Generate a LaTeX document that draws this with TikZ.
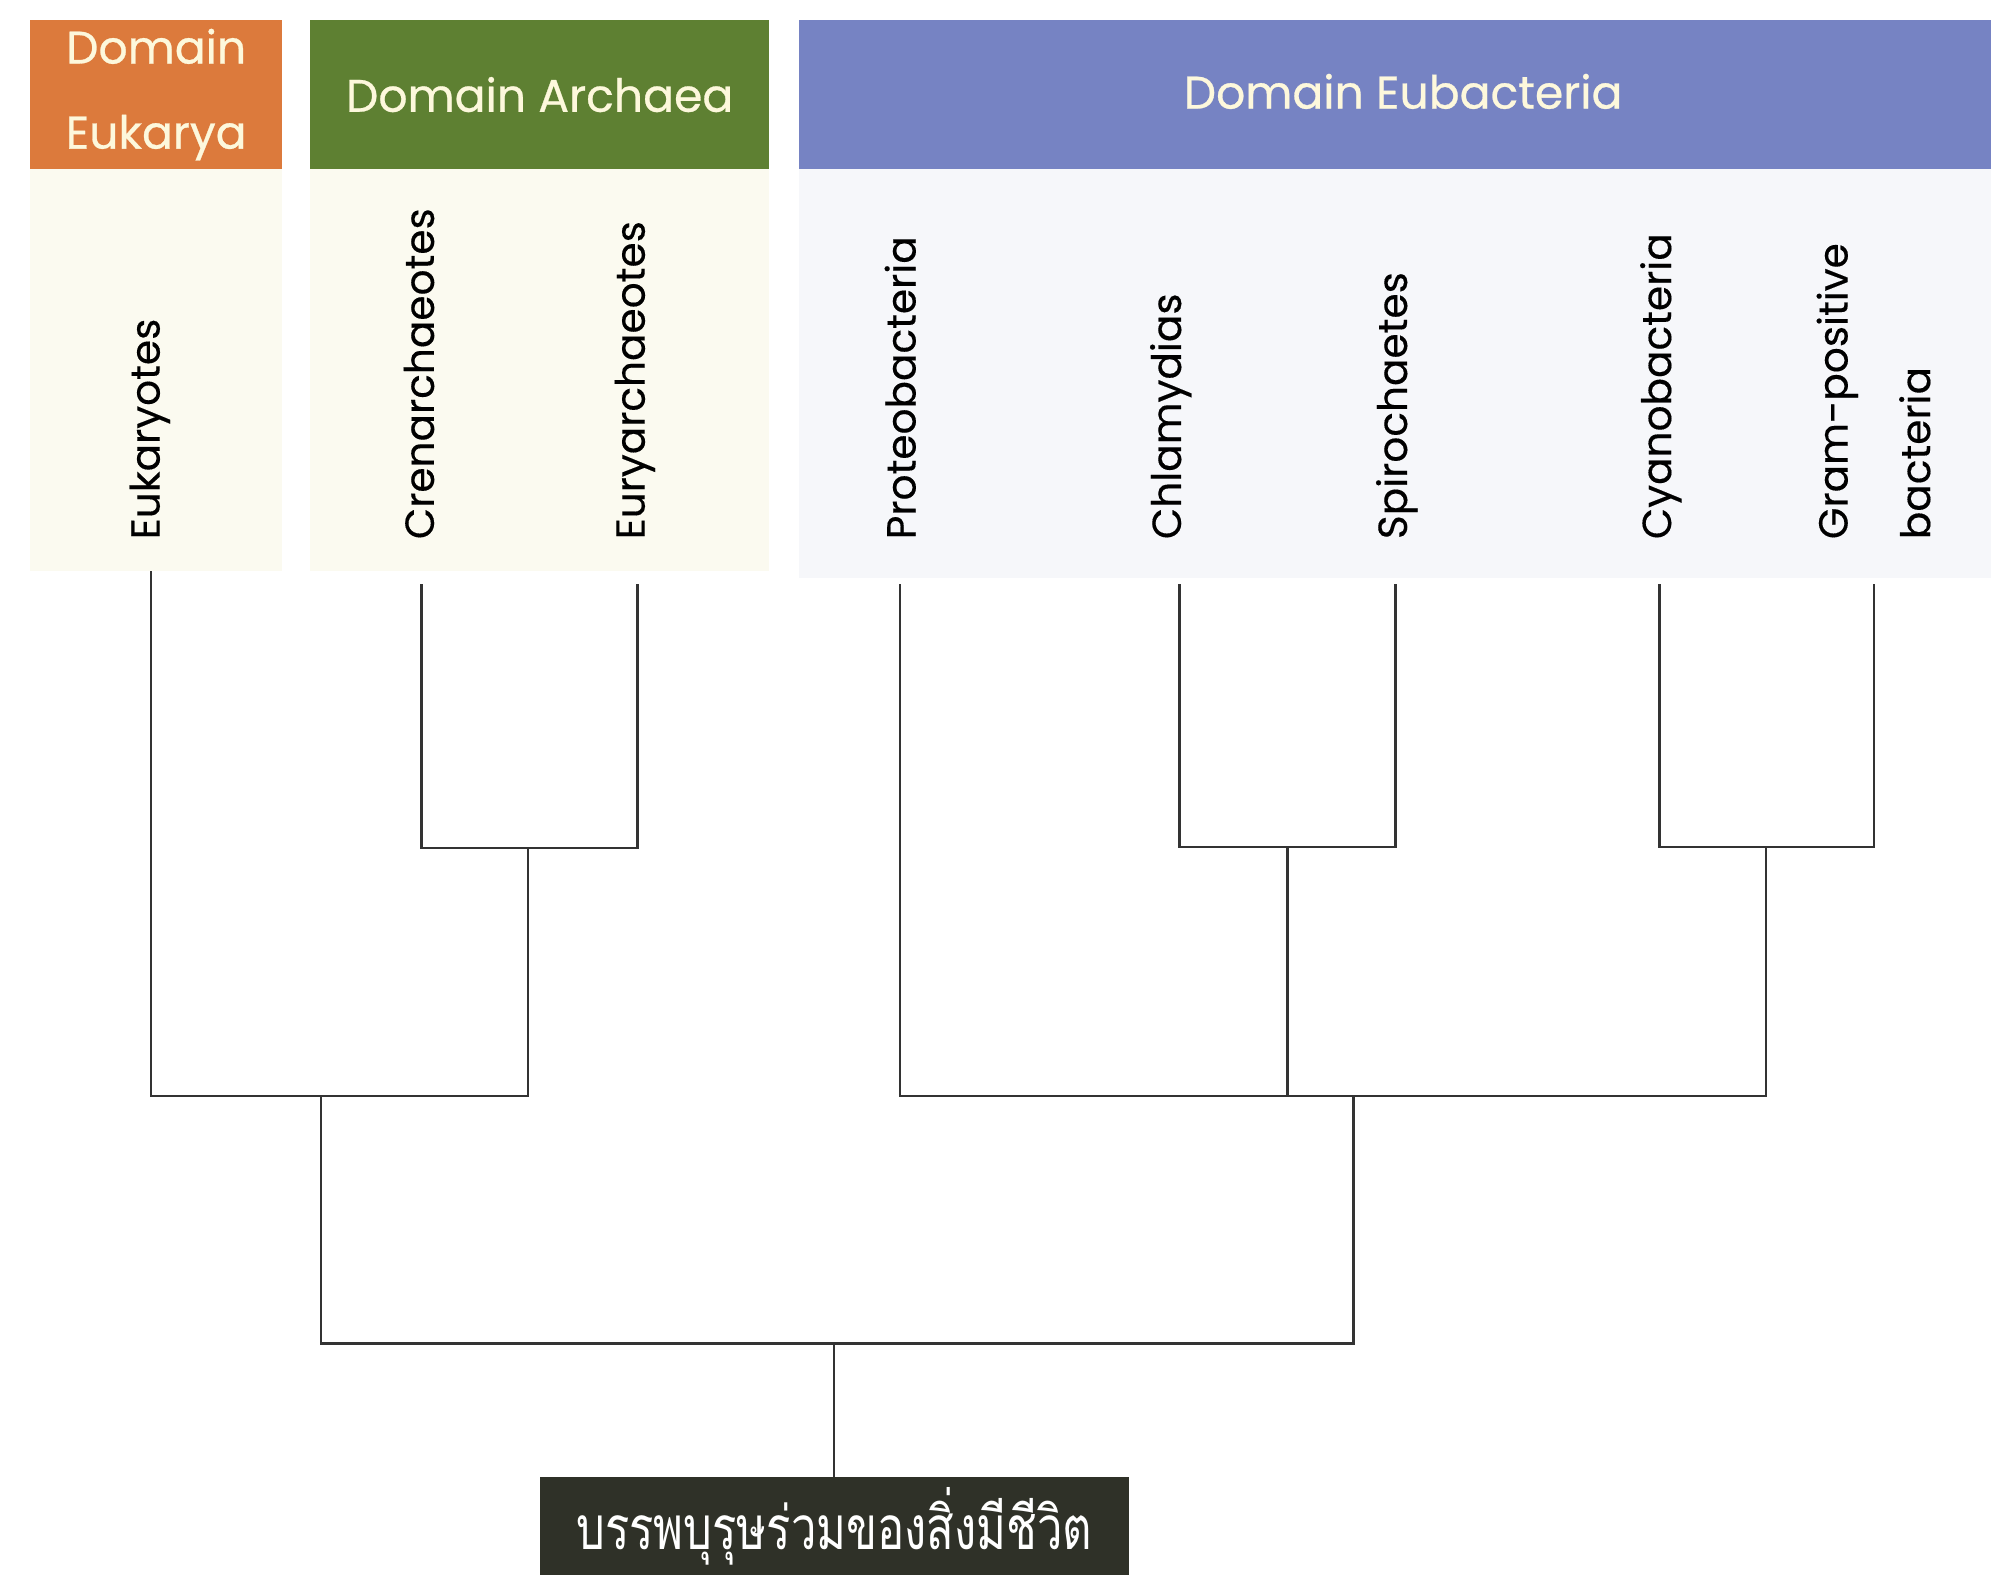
\documentclass[tikz,border=0pt]{standalone}
\usepackage{fontspec}
\setmainfont{Poppins}
\newfontfamily\hdfont[FakeBold=0.6]{Poppins}
\newfontfamily\taxfont[FakeBold=0.3]{Poppins}
\newfontfamily\thaifont[Script=Thai]{Loma}
\definecolor{eukor}{HTML}{DC7A3C}
\definecolor{archgr}{HTML}{5E8032}
\definecolor{eubbl}{HTML}{7683C3}
\definecolor{hdtext}{HTML}{FDF8DC}
\definecolor{panelcr}{HTML}{FBFAF0}
\definecolor{panelbl}{HTML}{F6F7FA}
\definecolor{ancbox}{HTML}{2F3128}
\definecolor{treeline}{HTML}{333333}
\tikzset{
  header/.style={fill=#1, draw=none, text=hdtext, font=\hdfont\fontsize{18}{33.5}\selectfont, align=center, inner sep=0pt},
  taxon/.style={rotate=90, anchor=west, font=\taxfont\fontsize{16}{18}\selectfont, inner sep=0pt},
  branch/.style={draw=treeline, line width=0.9pt},
}
\begin{document}
\begin{tikzpicture}[x=0.5pt,y=-0.5pt]
\useasboundingbox (0,0) rectangle (1568,1240);
\fill[white] (0,0) rectangle (1568,1240);
% panels
\fill[panelcr] (24,133) rectangle (222,450);
\fill[panelcr] (244,133) rectangle (606,450);
\fill[panelbl] (629,133) rectangle (1568,455);
% headers
\node[header=eukor, minimum width=99pt, minimum height=58.5pt] (hEuk) at (123,74.5) {Domain\\Eukarya};
\node[header=archgr, minimum width=181pt, minimum height=58.5pt] (hArc) at (425,74.5) {Domain Archaea};
\node[header=eubbl, minimum width=469.5pt, minimum height=58.5pt] (hEub) at (1098.5,74.5) {};
\node[text=hdtext, font=\hdfont\fontsize{18}{20}\selectfont] (hEubT) at (1105,72) {Domain Eubacteria};
% taxa
\node[taxon] (eu) at (118,425) {Eukaryotes};
\node[taxon] (cren) at (330,425) {Crenarchaeotes};
\node[taxon] (eury) at (500,425) {Euryarchaeotes};
\node[taxon] (proteo) at (709,425) {Proteobacteria};
\node[taxon] (chlam) at (922,425) {Chlamydias};
\node[taxon] (spiro) at (1100,425) {Spirochaetes};
\node[taxon] (cyano) at (1308,425) {Cyanobacteria};
\node[taxon] (gram) at (1447,425) {Gram-positive};
\node[taxon] (gramb) at (1508,425) {bacteria};
% leaf tips
\coordinate (eu-t) at (119,450);
\coordinate (cren-t) at (332,460);
\coordinate (eury-t) at (502,460);
\coordinate (proteo-t) at (709,460);
\coordinate (chlam-t) at (929,460);
\coordinate (spiro-t) at (1099,460);
\coordinate (cyano-t) at (1307,460);
\coordinate (gram-t) at (1476,460);
% internal nodes
\coordinate (arch) at (416,668);
\coordinate (chsp) at (1014,667);
\coordinate (cygr) at (1391,667);
\coordinate (ea) at (253,863);
\coordinate (bact) at (1066,863);
\coordinate (root) at (657,1058);
% ancestor
\node[fill=ancbox, draw=none, minimum width=232pt, minimum height=44pt, inner sep=0pt, anchor=north] (anc) at (657,1163) {};
\node[text=white, font=\thaifont\fontsize{19}{22}\selectfont, inner sep=0pt] (ancT) at (657,1202) {\scalebox{0.94}[1.25]{บรรพบุรุษร่วมของสิ่งมีชีวิต}};
% tree
\draw[branch] (cren-t) |- (arch) -| (eury-t);
\draw[branch] (chlam-t) |- (chsp) -| (spiro-t);
\draw[branch] (cyano-t) |- (cygr) -| (gram-t);
\draw[branch] (eu-t) |- (ea) -| (arch);
\draw[branch] (proteo-t) |- (bact) -| (cygr);
\draw[branch] (chsp) -- (chsp |- bact);
\draw[branch] (ea) |- (root) -| (bact);
\draw[branch] (root) -- (anc.north);
\end{tikzpicture}
\end{document}
